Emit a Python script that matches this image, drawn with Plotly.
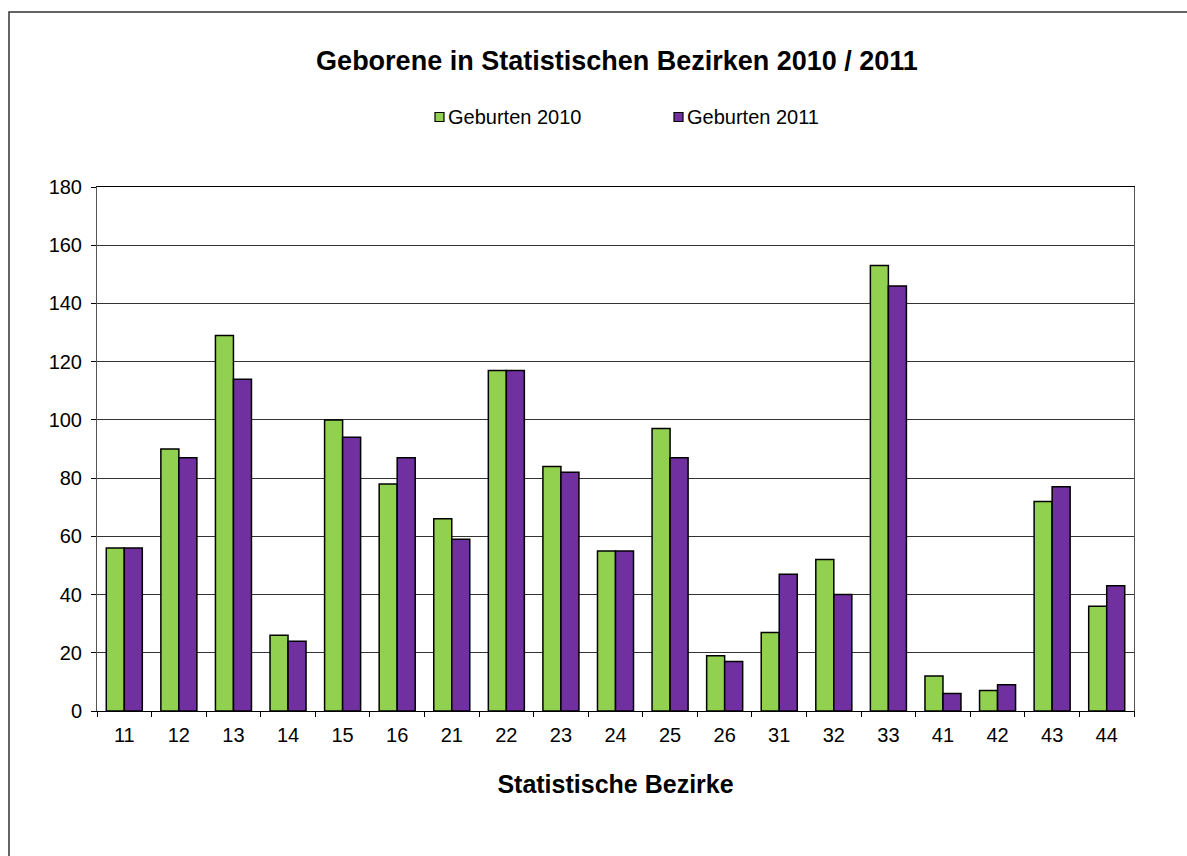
import plotly.graph_objects as go

# Statistical districts and births per year
bezirke = ["11", "12", "13", "14", "15", "16", "21", "22", "23", "24",
           "25", "26", "31", "32", "33", "41", "42", "43", "44"]
geburten_2010 = [56, 90, 129, 26, 100, 78, 66, 117, 84, 55,
                 97, 19, 27, 52, 153, 12, 7, 72, 36]
geburten_2011 = [56, 87, 114, 24, 94, 87, 59, 117, 82, 55,
                 87, 17, 47, 40, 146, 6, 9, 77, 43]
y_ticks = [0, 20, 40, 60, 80, 100, 120, 140, 160, 180]

series_names = ["Geburten 2010", "Geburten 2011"]
series_colors = ["#92D050", "#7030A0"]

FONT = "Arial, Liberation Sans, sans-serif"
W, H = 1187, 856
L, R, T, B = 97, 53, 187, 145
plot_w = W - L - R
plot_h = H - T - B


def px_x(px):
    return (px - L) / plot_w


def px_y(py):
    return (H - B - py) / plot_h


fig = go.Figure()
for name, values, color in zip(series_names, [geburten_2010, geburten_2011], series_colors):
    fig.add_trace(go.Bar(
        x=bezirke, y=values, name=name, showlegend=False,
        marker=dict(color=color, line=dict(color="black", width=1.5)),
    ))

# Legend: small outlined squares followed by the series names
shapes = []
annotations = []
legend_left = [435, 674]
for name, color, x0 in zip(series_names, series_colors, legend_left):
    shapes.append(dict(
        type="rect", xref="paper", yref="paper",
        x0=px_x(x0), x1=px_x(x0 + 9),
        y0=px_y(121.5), y1=px_y(112.5),
        fillcolor=color, line=dict(color="black", width=1.2),
    ))
    annotations.append(dict(
        text=name, xref="paper", yref="paper",
        x=px_x(x0 + 11), y=px_y(117),
        xanchor="left", yanchor="middle", showarrow=False,
        font=dict(size=20, family=FONT, color="black"),
    ))

# Outer chart frame
shapes.append(dict(
    type="rect", xref="paper", yref="paper",
    x0=px_x(9), x1=1.5, y0=-0.6, y1=px_y(12),
    line=dict(color="#333333", width=1.5),
    fillcolor="rgba(0,0,0,0)", layer="below",
))

fig.update_layout(
    width=W, height=H,
    margin=dict(l=L, r=R, t=T, b=B),
    paper_bgcolor="white", plot_bgcolor="white",
    barmode="group", bargap=0.34, bargroupgap=0,
    font=dict(family=FONT, color="black", size=20),
    title=dict(
        text="<b>Geborene in Statistischen Bezirken 2010 / 2011</b>",
        x=617 / W, xanchor="center",
        y=1 - 61 / H, yanchor="middle",
        font=dict(size=27, family=FONT, color="black"),
    ),
    xaxis=dict(
        type="category",
        showline=True, linecolor="black", linewidth=1, mirror=True,
        ticks="outside", tickson="boundaries", ticklen=5,
        tickcolor="black", ticklabelstandoff=6,
        tickfont=dict(size=20, family=FONT),
        title=dict(text="<b>Statistische Bezirke</b>",
                   font=dict(size=25, family=FONT), standoff=30),
    ),
    yaxis=dict(
        range=[0, 180], tickvals=y_ticks,
        showline=True, linecolor="#555555", linewidth=1, mirror=True,
        ticks="outside", ticklen=5, tickcolor="black",
        ticklabelstandoff=5,
        showgrid=True, gridcolor="#333333", gridwidth=1,
        tickfont=dict(size=20, family=FONT),
        zeroline=False,
    ),
    shapes=shapes,
    annotations=annotations,
)

fig.write_html("out.html")
